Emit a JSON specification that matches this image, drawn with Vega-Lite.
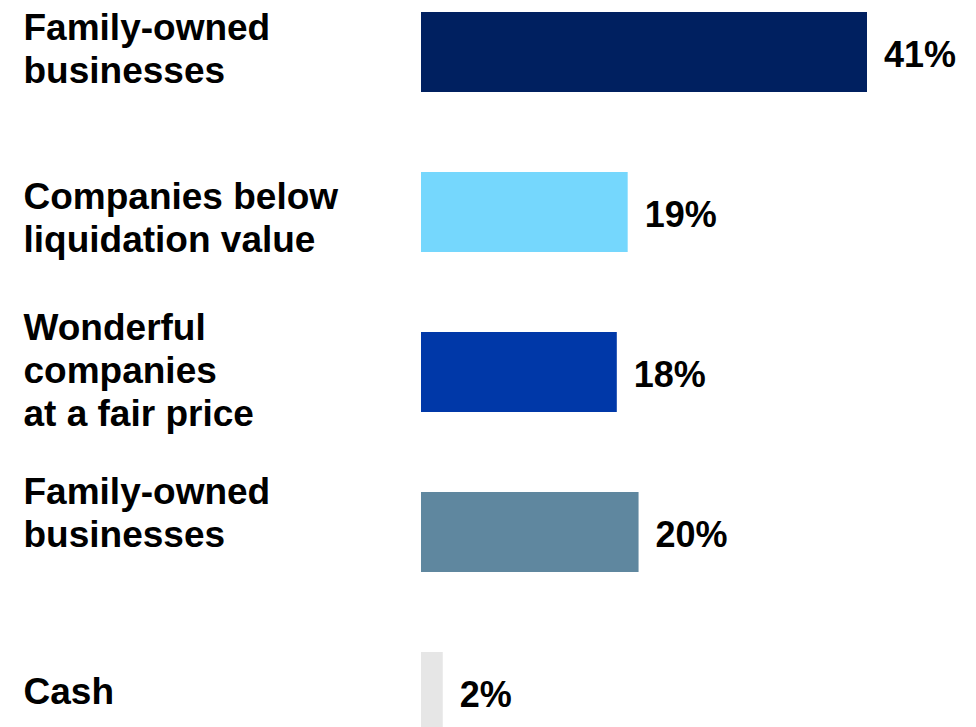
{
  "$schema": "https://vega.github.io/schema/vega-lite/v6.json",
  "width": 976,
  "height": 727,
  "autosize": {"type": "none"},
  "padding": 0,
  "background": "white",
  "config": {"view": {"stroke": null}, "font": "Liberation Sans"},
  "data": {"values": [
    {"label": "Family-owned|businesses", "share": 0.41},
    {"label": "Companies below|liquidation value", "share": 0.19},
    {"label": "Wonderful|companies|at a fair price", "share": 0.18},
    {"label": "Family-owned|businesses ", "share": 0.20},
    {"label": "Cash", "share": 0.02}
  ]},
  "encoding": {
    "y": {
      "field": "label", "type": "nominal", "sort": null,
      "scale": {"range": [-28, 772], "paddingInner": 0.5, "paddingOuter": 0.25},
      "axis": {
        "title": null, "domain": false, "ticks": false, "tickSize": 0, "grid": false,
        "labelPadding": -23, "labelAlign": "left", "labelBaseline": "middle",
        "labelExpr": "split(datum.label, '|')",
        "labelFont": "Liberation Sans", "labelFontSize": 37, "labelFontWeight": "bold",
        "labelColor": "black", "labelLineHeight": 43, "labelLimit": 500,
        "labelOffset": {
          "condition": [
            {"test": "datum.value === 'Family-owned|businesses'", "value": -23},
            {"test": "datum.value === 'Companies below|liquidation value'", "value": -14},
            {"test": "datum.value === 'Wonderful|companies|at a fair price'", "value": -43},
            {"test": "datum.value === 'Family-owned|businesses '", "value": -39}
          ],
          "value": 1
        }
      }
    },
    "x": {"field": "share", "type": "quantitative", "scale": {"domain": [0, 0.41], "range": [421, 867]}, "axis": null}
  },
  "layer": [
    {
      "mark": {"type": "bar"},
      "encoding": {
        "color": {
          "field": "label", "type": "nominal", "legend": null,
          "scale": {
            "domain": ["Family-owned|businesses", "Companies below|liquidation value", "Wonderful|companies|at a fair price", "Family-owned|businesses ", "Cash"],
            "range": ["#002060", "#75D7FD", "#0038A8", "#5F879F", "#E6E6E6"]
          }
        }
      }
    },
    {
      "mark": {"type": "text", "align": "left", "baseline": "middle", "dx": 17, "dy": 4, "fontSize": 36, "fontWeight": "bold", "font": "Liberation Sans", "color": "black"},
      "encoding": {"text": {"field": "share", "type": "quantitative", "format": ".0%"}}
    }
  ]
}
